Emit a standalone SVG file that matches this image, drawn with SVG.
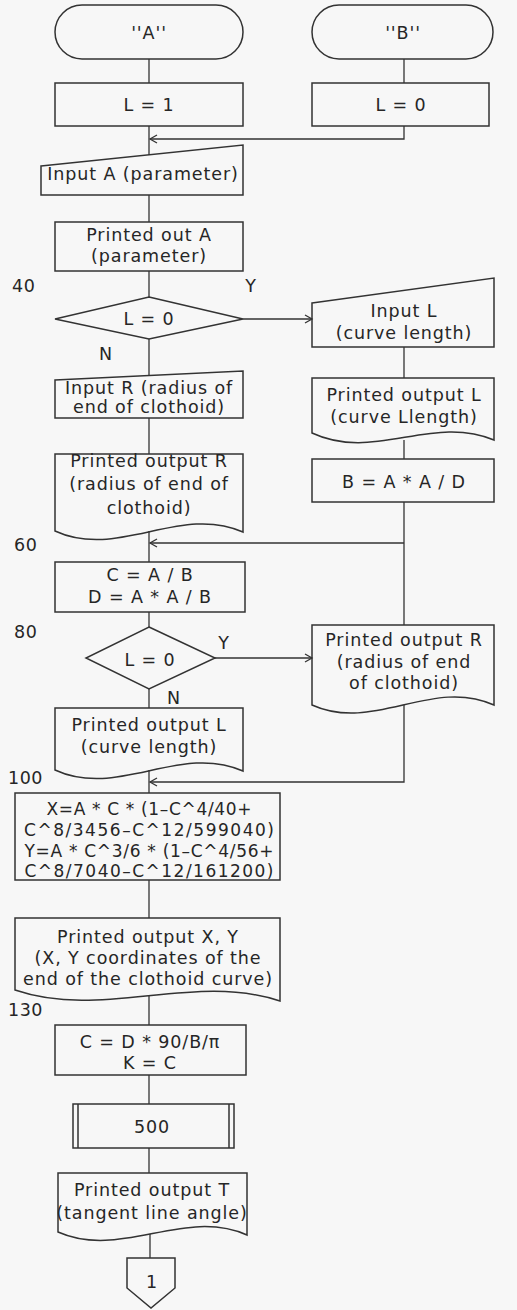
<svg xmlns="http://www.w3.org/2000/svg" width="517" height="1310" viewBox="0 0 517 1310">
<style>
.s{fill:none;stroke:#333;stroke-width:1.5}
.c{fill:none;stroke:#333;stroke-width:1.3}
text{font-family:"DejaVu Sans","Liberation Sans",sans-serif;font-size:17.5px;letter-spacing:0.9px;fill:#262626;text-anchor:middle}
.n{text-anchor:start;letter-spacing:0.5px}
.f{font-size:17px;letter-spacing:0}
</style>
<defs>
<marker id="ar" markerWidth="10" markerHeight="10" refX="7" refY="0" viewBox="-1 -5 10 10" orient="auto" markerUnits="userSpaceOnUse">
<path d="M0,-4 L7,0 L0,4" fill="none" stroke="#333" stroke-width="1.3"/>
</marker>
</defs>
<rect x="0" y="0" width="517" height="1310" fill="#f7f7f7"/>

<g id="connectors">
<path class="c" d="M149,59 V83"/>
<path class="c" d="M404,59 V83"/>
<path class="c" d="M149,126 V155"/>
<path class="c" d="M404,126 V139 H150" marker-end="url(#ar)"/>
<path class="c" d="M149,195 V222"/>
<path class="c" d="M149,271 V297"/>
<path class="c" d="M243,319 H312" marker-end="url(#ar)"/>
<path class="c" d="M404,347 V378"/>
<path class="c" d="M149,339 V376"/>
<path class="c" d="M149,418 V454"/>
<path class="c" d="M404,440 V459"/>
<path class="c" d="M404,502 V625"/>
<path class="c" d="M404,543 H150" marker-end="url(#ar)"/>
<path class="c" d="M149,531 V562"/>
<path class="c" d="M149,612 V627"/>
<path class="c" d="M215,658 H312" marker-end="url(#ar)"/>
<path class="c" d="M149,689 V708"/>
<path class="c" d="M404,705 V782 H150" marker-end="url(#ar)"/>
<path class="c" d="M149,770 V793"/>
<path class="c" d="M149,880 V918"/>
<path class="c" d="M149,996 V1025"/>
<path class="c" d="M149,1075 V1104"/>
<path class="c" d="M149,1148 V1173"/>
<path class="c" d="M150,1234 V1258"/>
</g>

<g id="labels">
<text class="n" x="12" y="292">40</text>
<text x="251" y="292">Y</text>
<text x="106" y="360">N</text>
<text class="n" x="14" y="551">60</text>
<text class="n" x="14" y="638">80</text>
<text x="224" y="649">Y</text>
<text x="174" y="704">N</text>
<text class="n" x="8" y="784">100</text>
<text class="n" x="8" y="1016">130</text>
</g>

<g id="termA">
<rect class="s" x="55" y="5" width="188" height="54" rx="27"/>
<text x="149" y="39">''A''</text>
</g>
<g id="termB">
<rect class="s" x="312" y="5" width="181" height="54" rx="27"/>
<text x="403" y="39">''B''</text>
</g>
<g id="setL1">
<rect class="s" x="55" y="83" width="188" height="43"/>
<text x="149" y="111">L = 1</text>
</g>
<g id="setL0">
<rect class="s" x="312" y="83" width="177" height="43"/>
<text x="401" y="111">L = 0</text>
</g>
<g id="inputA">
<path class="s" d="M41,166 L243,145 V195 H41 Z"/>
<text x="143" y="180">Input A (parameter)</text>
</g>
<g id="printA">
<rect class="s" x="55" y="222" width="188" height="49"/>
<text x="149" y="241">Printed out A</text>
<text x="149" y="262">(parameter)</text>
</g>
<g id="dec1">
<path class="s" d="M149,297 L243,319 L149,339 L55,319 Z"/>
<text x="149" y="325">L = 0</text>
</g>
<g id="inputL">
<path class="s" d="M312,303 L494,278 V347 H312 Z"/>
<text x="404" y="317">Input L</text>
<text x="404" y="339">(curve length)</text>
</g>
<g id="inputR">
<path class="s" d="M55,380 L243,371 V418 H55 Z"/>
<text x="149" y="394">Input R (radius of</text>
<text x="149" y="413">end of clothoid)</text>
</g>
<g id="printLr">
<path class="s" d="M312,433 V378 H494 V440 C432,414 374,462 312,433 Z"/>
<text x="404" y="401">Printed output L</text>
<text x="404" y="423">(curve Llength)</text>
</g>
<g id="calcB">
<rect class="s" x="312" y="459" width="182" height="43"/>
<text x="404" y="488">B = A * A / D</text>
</g>
<g id="printRl">
<path class="s" d="M55,531 V454 H243 V532 C180,504 118,560 55,531 Z"/>
<text x="149" y="467">Printed output R</text>
<text x="149" y="490">(radius of end of</text>
<text x="149" y="514">clothoid)</text>
</g>
<g id="calcCD">
<rect class="s" x="55" y="562" width="190" height="50"/>
<text x="150" y="581">C = A / B</text>
<text x="150" y="603">D = A * A / B</text>
</g>
<g id="dec2">
<path class="s" d="M149,627 L215,658 L149,689 L86,658 Z"/>
<text x="150" y="666">L = 0</text>
</g>
<g id="printRr">
<path class="s" d="M312,705 V625 H494 V705 C432,677 374,733 312,705 Z"/>
<text x="404" y="646">Printed output R</text>
<text x="404" y="668">(radius of end</text>
<text x="404" y="689">of clothoid)</text>
</g>
<g id="printLl">
<path class="s" d="M55,770 V708 H243 V771 C180,743 118,799 55,770 Z"/>
<text x="149" y="731">Printed output L</text>
<text x="149" y="753">(curve length)</text>
</g>
<g id="calcXY">
<rect class="s" x="15" y="793" width="265" height="87"/>
<text class="f" x="149" y="815" textLength="205" lengthAdjust="spacing">X=A * C * (1–C^4/40+</text>
<text class="f" x="149" y="836" textLength="250" lengthAdjust="spacing">C^8/3456–C^12/599040)</text>
<text class="f" x="149" y="857" textLength="249" lengthAdjust="spacing">Y=A * C^3/6 * (1–C^4/56+</text>
<text class="f" x="149" y="877" textLength="249" lengthAdjust="spacing">C^8/7040–C^12/161200)</text>
</g>
<g id="printXY">
<path class="s" d="M15,990 V918 H280 V1001 C192,972 103,1020 15,990 Z"/>
<text x="148" y="943">Printed output X, Y</text>
<text x="148" y="964">(X, Y coordinates of the</text>
<text x="148" y="985">end of the clothoid curve)</text>
</g>
<g id="calcK">
<rect class="s" x="55" y="1025" width="191" height="50"/>
<text x="150" y="1048">C = D * 90/B/π</text>
<text x="150" y="1069">K = C</text>
</g>
<g id="sub500">
<rect class="s" x="73" y="1104" width="161" height="44"/>
<path class="s" d="M78,1104 V1148 M229,1104 V1148"/>
<text x="152" y="1133">500</text>
</g>
<g id="printT">
<path class="s" d="M58,1232 V1173 H247 V1235 C184,1207 121,1260 58,1232 Z"/>
<text x="152" y="1196">Printed output T</text>
<text x="152" y="1219">(tangent line angle)</text>
</g>
<g id="offpage1">
<path class="s" d="M127,1258 H175 V1288 L151,1308 L127,1288 Z"/>
<text x="152" y="1288">1</text>
</g>
</svg>
